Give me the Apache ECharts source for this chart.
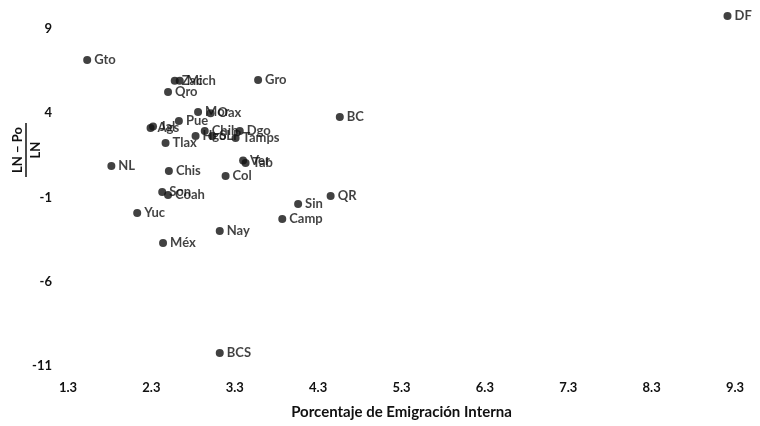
<!DOCTYPE html>
<html>
<head>
<meta charset="utf-8">
<script src="https://cdn.jsdelivr.net/npm/echarts@6/dist/echarts.min.js"></script>
<style>
  html, body { margin: 0; padding: 0; background: #fff; }
  #chart { width: 760px; height: 426px; }
</style>
</head>
<body>
<div id="chart"></div>
<script>
// estados
const estados = ['DF', 'Gto', 'Zac', 'Mich', 'Gro', 'Qro', 'Mor', 'Oax', 'BC', 'Ags', 'Jal', 'Pue',
  'Hgo', 'SLP', 'Chih', 'Dgo', 'Tamps', 'Tlax', 'NL', 'Chis', 'Ver', 'Tab', 'Col',
  'Son', 'Coah', 'QR', 'Sin', 'Camp', 'Yuc', 'Nay', 'Méx', 'BCS']
// porcentaje de emigración interna
const emigracion = [9.21, 1.53, 2.58, 2.64, 3.58, 2.50, 2.86, 3.01, 4.56, 2.29, 2.32, 2.63,
  2.83, 3.03, 2.94, 3.36, 3.31, 2.47, 1.82, 2.51, 3.40, 3.43, 3.19,
  2.43, 2.50, 4.45, 4.06, 3.87, 2.13, 3.12, 2.44, 3.12]
// (LN - Po) / LN
const indice = [9.77, 7.16, 5.93, 5.93, 5.97, 5.26, 4.07, 4.0, 3.78, 3.12, 3.22, 3.54,
  2.65, 2.65, 2.95, 2.95, 2.53, 2.23, 0.87, 0.57, 1.2, 1.05, 0.28,
  -0.67, -0.85, -0.91, -1.39, -2.28, -1.92, -2.99, -3.70, -10.23]

const xTicks = { min: 1.3, max: 9.3, step: 1 }
const yTicks = { min: -11, max: 9, step: 5 }

const font = 'Lato, "Open Sans", sans-serif'
const ink = '#111'

const chart = echarts.init(document.getElementById('chart'))
chart.setOption({
  animation: false,
  grid: { left: 68, right: 25, top: 29, bottom: 60, outerBoundsMode: 'none' },
  xAxis: {
    type: 'value',
    min: xTicks.min,
    max: xTicks.max,
    interval: xTicks.step,
    name: 'Porcentaje de Emigración Interna',
    nameLocation: 'middle',
    nameGap: 39,
    nameTextStyle: { color: ink, fontFamily: font, fontWeight: 'bold', fontSize: 15 },
    axisLine: { show: false },
    axisTick: { show: false },
    splitLine: { show: false },
    axisLabel: {
      color: ink, fontFamily: font, fontWeight: 'bold', fontSize: 13, margin: 15,
      formatter: v => v.toFixed(1)
    }
  },
  yAxis: {
    type: 'value',
    min: yTicks.min,
    max: yTicks.max,
    interval: yTicks.step,
    axisLine: { show: false },
    axisTick: { show: false },
    splitLine: { show: false },
    axisLabel: { color: ink, fontFamily: font, fontWeight: 'bold', fontSize: 13, margin: 16 }
  },
  graphic: [{
    type: 'group',
    x: 28,
    y: 150,
    rotation: Math.PI / 2,
    children: [
      { type: 'text', x: 0, y: -10, style: { text: 'LN − Po', fill: ink, font: 'bold 13px ' + font, align: 'center', verticalAlign: 'middle' } },
      { type: 'line', shape: { x1: -27, y1: -2, x2: 27, y2: -2 }, style: { stroke: ink, lineWidth: 1.5 } },
      { type: 'text', x: 0, y: 8, style: { text: 'LN', fill: ink, font: 'bold 13px ' + font, align: 'center', verticalAlign: 'middle' } }
    ]
  }],
  series: [{
    type: 'scatter',
    clip: false,
    symbolSize: 8,
    itemStyle: { color: ink },
    label: {
      show: true,
      position: 'right',
      distance: 3,
      color: ink,
      fontFamily: font,
      fontWeight: 'bold',
      fontSize: 13,
      formatter: p => p.data[2]
    },
    data: estados.map((e, i) => [emigracion[i], indice[i], e])
  }]
})
</script>
</body>
</html>
